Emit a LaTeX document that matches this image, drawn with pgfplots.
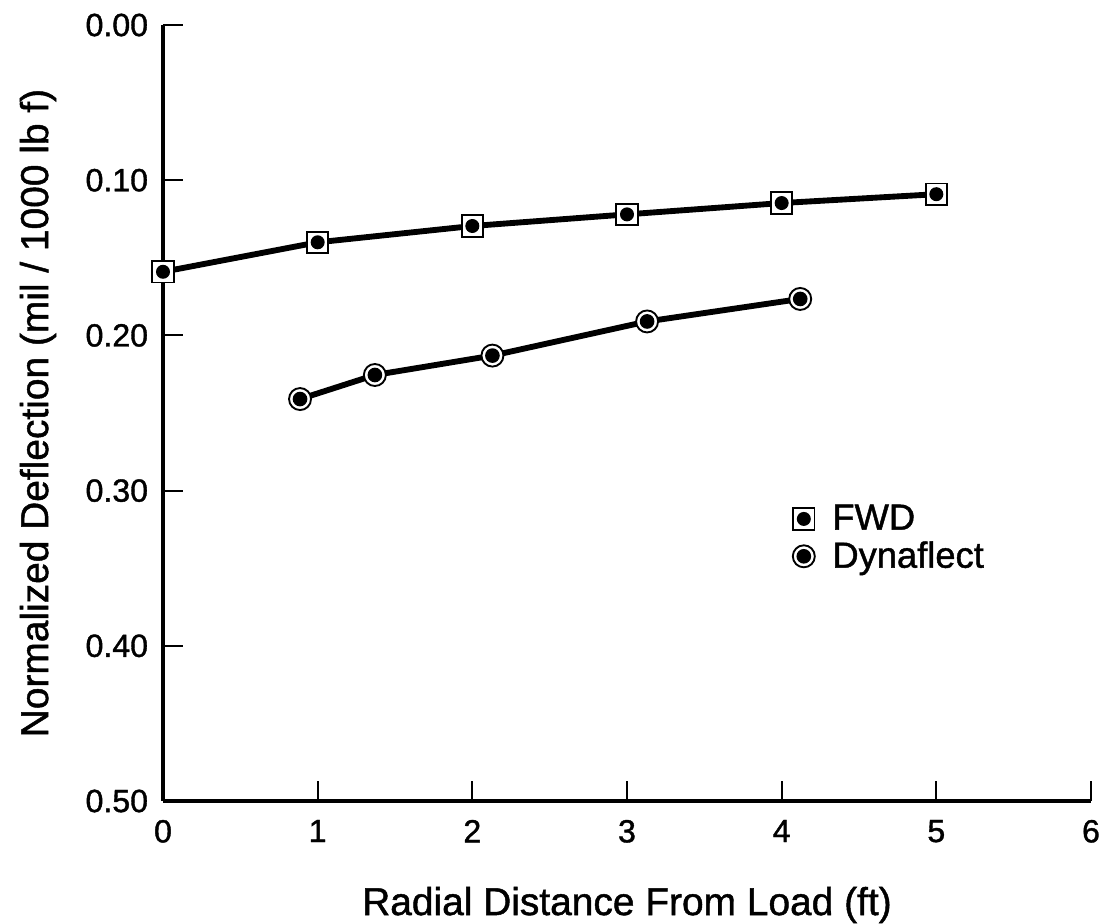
\documentclass[border=0pt]{standalone}
\usepackage{fontspec}
\setmainfont{Liberation Sans}[UprightFeatures={FakeBold=1.2}]
\usepackage{pgfplots}
\pgfplotsset{compat=1.18}

% square with a dot, circle with a dot
\pgfdeclareplotmark{fwd}{%
  \pgfpathrectangle{\pgfpoint{-1.6mm}{-1.6mm}}{\pgfpoint{3.2mm}{3.2mm}}%
  \pgfsetfillcolor{white}\pgfusepath{fill,stroke}%
  \pgfpathcircle{\pgfpointorigin}{1.05mm}%
  \pgfsetfillcolor{black}\pgfusepath{fill}}
\pgfdeclareplotmark{dyna}{%
  \pgfpathcircle{\pgfpointorigin}{1.65mm}%
  \pgfsetfillcolor{white}\pgfusepath{fill,stroke}%
  \pgfpathcircle{\pgfpointorigin}{1.1mm}%
  \pgfsetfillcolor{black}\pgfusepath{fill}}

\pgfplotstableread{
x y
0 0.159
1 0.140
2 0.1295
3 0.122
4 0.1147
5 0.109
}\fwd
\pgfplotstableread{
x y
0.886 0.241
1.37 0.2255
2.13 0.213
3.13 0.191
4.12 0.1765
}\dyna

\begin{document}
\begin{tikzpicture}
\path[use as bounding box] (-24.45mm,-18.3mm) rectangle (141.15mm,120.15mm);
\begin{axis}[
scale only axis,
width=139.2mm,
height=116.4mm,
axis lines=left,
axis line style={-, line width=1.3pt},
y dir=reverse,
xmin=0,xmax=6,
ymin=0,ymax=0.5,
xtick={0,1,2,3,4,5,6},
ytick={0,0.1,0.2,0.3,0.4,0.5},
yticklabel style={/pgf/number format/fixed,/pgf/number format/fixed zerofill,/pgf/number format/precision=2, xshift=-1mm},
xticklabel style={yshift=-1.6mm},
/pgf/number format/assume math mode=true,
tick align=inside,
major tick length=3mm,
tick style={line width=0.8pt, black},
tick label style={font=\fontsize{13.7}{16}\selectfont},
xlabel={Radial Distance From Load (ft)},
ylabel={Normalized Deflection (mil / 1000 lb f)},
label style={font=\fontsize{16.6}{19}\selectfont},
xlabel style={at={(axis description cs:0.5,-0.134)}, anchor=center},
ylabel style={at={(axis description cs:-0.1347,0.5)}, anchor=center},
legend style={draw=none, fill=none, at={(axis description cs:0.6696,0.339)}, anchor=west,
  font=\fontsize{15.5}{18}\selectfont, row sep=-0.5pt,
  /tikz/every odd column/.append style={column sep=1.8mm}},
legend cell align=left,
]
\addplot[black, line width=2.5pt, forget plot] table {\fwd};
\addplot[black, line width=2.5pt, forget plot] table {\dyna};
\addplot[black, only marks, mark=fwd, mark options={line width=0.8pt}] table {\fwd};
\addplot[black, only marks, mark=dyna, mark options={line width=0.8pt}] table {\dyna};
\legend{FWD,Dynaflect}
\end{axis}
\end{tikzpicture}
\end{document}
